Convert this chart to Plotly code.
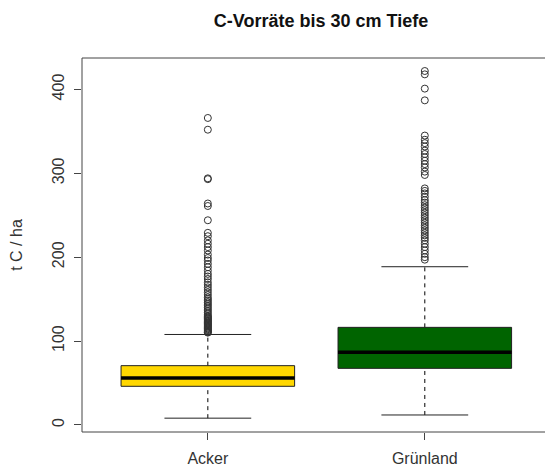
import plotly.graph_objects as go

# Soil organic carbon stocks down to 30 cm, by land use
categories = ["Acker", "Grünland"]
positions = [1, 2]
box_colors = ["#FFD700", "#006400"]

lower_whisker = [8.0, 11.8]
q1 = [46.0, 67.4]
median = [56.0, 86.5]
q3 = [70.6, 116.3]
upper_whisker = [107.8, 188.6]

outliers_acker = [366, 352, 294, 293, 264, 261, 244, 229, 225, 220, 216, 212, 208,
                  203, 199, 196, 192, 188, 184, 180, 177, 174, 170, 167, 164, 161,
                  158, 155, 152, 150, 148, 146, 144, 142, 140, 138, 136, 134, 132,
                  130, 129, 128, 127, 126, 125, 124, 123, 122, 121, 120, 119, 118,
                  117, 116, 115, 114, 113, 112, 111, 110.5, 110]
outliers_gruenland = [422, 418, 401, 387, 345, 340, 336, 332, 327, 323, 319, 315,
                      311, 307, 302, 298, 282, 279, 276, 272, 268, 265, 262, 259,
                      256, 253, 250, 247, 244, 241, 238, 235, 232, 229, 226, 223,
                      220, 216, 212, 208, 204, 200, 197]
outliers = [outliers_acker, outliers_gruenland]

y_ticks = [0, 100, 200, 300, 400]

BOX_HALF = 0.4
CAP_HALF = 0.2
FONT = "Liberation Sans, Arial, sans-serif"

fig = go.Figure()
shapes = []

for pos, col, lo, a, m, b, hi, pts in zip(positions, box_colors, lower_whisker, q1,
                                          median, q3, upper_whisker, outliers):
    # dashed whiskers
    for y0, y1 in ((lo, a), (b, hi)):
        fig.add_trace(go.Scatter(x=[pos, pos], y=[y0, y1], mode="lines",
                                 line=dict(color="black", width=1, dash="4px,4px"),
                                 hoverinfo="skip", showlegend=False))
    # whisker caps
    for yv in (lo, hi):
        fig.add_trace(go.Scatter(x=[pos - CAP_HALF, pos + CAP_HALF], y=[yv, yv],
                                 mode="lines", line=dict(color="#222222", width=1),
                                 hoverinfo="skip", showlegend=False))
    # box
    shapes.append(dict(type="rect", xref="x", yref="y",
                       x0=pos - BOX_HALF, x1=pos + BOX_HALF, y0=a, y1=b,
                       fillcolor=col, line=dict(color="#222222", width=1), layer="above"))
    # median
    shapes.append(dict(type="line", xref="x", yref="y",
                       x0=pos - BOX_HALF, x1=pos + BOX_HALF, y0=m, y1=m,
                       line=dict(color="black", width=3.5), layer="above"))
    # outliers
    fig.add_trace(go.Scatter(x=[pos] * len(pts), y=pts, mode="markers",
                             marker=dict(symbol="circle-open", size=7,
                                         color="#333333", line=dict(width=1)),
                             showlegend=False))

# plot frame (right side runs past the page edge)
shapes.append(dict(type="rect", xref="paper", yref="paper", x0=0, x1=1.1, y0=0, y1=1,
                   line=dict(color="#444444", width=1), layer="above"))

fig.update_layout(
    width=545, height=468,
    margin=dict(l=82, r=0, t=58, b=36),
    paper_bgcolor="white", plot_bgcolor="white",
    shapes=shapes,
    font=dict(family=FONT, color="#333333", size=16),
    title=dict(text="<b>C-Vorräte bis 30 cm Tiefe</b>",
               font=dict(family=FONT, size=18, color="#111111"),
               x=321 / 545, xanchor="center", xref="container",
               y=1 - 21 / 468, yanchor="middle", yref="container"),
    xaxis=dict(range=[0.42, 2.554], tickmode="array", tickvals=positions,
               ticktext=categories, ticks="outside", ticklen=7, tickcolor="#444444",
               showgrid=False, zeroline=False, showline=False,
               tickfont=dict(size=16), ticklabelstandoff=5),
    yaxis=dict(range=[-8.5, 437.5], tickmode="array", tickvals=y_ticks,
               ticks="outside", ticklen=7, tickcolor="#444444", tickangle=-90,
               showgrid=False, zeroline=False, showline=False,
               tickfont=dict(size=16), ticklabelstandoff=4,
               title=dict(text="t C / ha", font=dict(size=16), standoff=22)),
)

fig.write_html("out.html")
